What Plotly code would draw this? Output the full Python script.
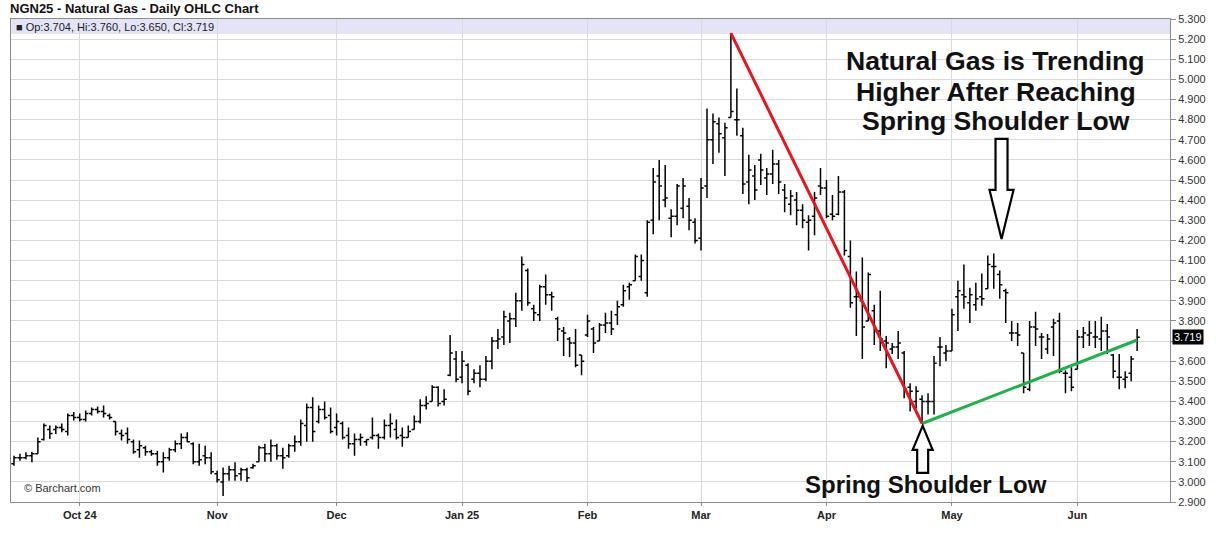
import plotly.graph_objects as go

# ---------------- data (trading-day index 0..188, Sep 16 2024 .. Jun 16 2025) -------------
opens = [3.09, 3.12, 3.12, 3.13, 3.14, 3.21, 3.26, 3.26, 3.27, 3.25,
         3.33, 3.32, 3.31, 3.34, 3.36, 3.35, 3.33, 3.30, 3.24, 3.24,
         3.20, 3.16, 3.17, 3.15, 3.14, 3.10, 3.12, 3.16, 3.19, 3.22,
         3.19, 3.10, 3.13, 3.12, 3.04, 3.00, 3.04, 3.06, 3.04, 3.06,
         3.07, 3.10, 3.17, 3.14, 3.18, 3.13, 3.13, 3.18, 3.20, 3.28,
         3.37, 3.30, 3.36, 3.33, 3.27, 3.29, 3.23, 3.19, 3.21, 3.20,
         3.22, 3.23, 3.22, 3.28, 3.26, 3.23, 3.22, 3.26, 3.30, 3.38,
         3.40, 3.47, 3.40, 3.53, 3.61, 3.52, 3.58, 3.51, 3.54, 3.51,
         3.60, 3.70, 3.72, 3.80, 3.81, 3.90, 4.05, 3.86, 3.83, 3.97,
         3.93, 3.81, 3.75, 3.71, 3.69, 3.63, 3.73, 3.76, 3.70, 3.78,
         3.79, 3.83, 3.88, 3.97, 4.00, 4.02, 3.94, 4.30, 4.52, 4.40,
         4.31, 4.32, 4.36, 4.37, 4.29, 4.21, 4.47, 4.70, 4.78, 4.71,
         4.81, 4.80, 4.72, 4.49, 4.52, 4.60, 4.51, 4.53, 4.58, 4.45,
         4.38, 4.40, 4.35, 4.29, 4.32, 4.47, 4.46, 4.33, 4.33, 4.44,
         4.12, 3.92, 3.90, 3.80, 3.85, 3.75, 3.70, 3.66, 3.67, 3.64,
         3.47, 3.40, 3.41, 3.40, 3.40, 3.67, 3.64, 3.65, 3.92, 3.93,
         3.89, 3.88, 3.92, 3.96, 4.07, 4.03, 3.95, 3.74, 3.74, 3.64,
         3.46, 3.77, 3.72, 3.66, 3.77, 3.80, 3.54, 3.52, 3.56, 3.72,
         3.73, 3.72, 3.71, 3.75, 3.63, 3.52, 3.51, 3.54, 3.704]

highs = [3.13, 3.14, 3.147, 3.15, 3.22, 3.29, 3.28, 3.28, 3.29, 3.34,
         3.347, 3.34, 3.355, 3.37, 3.375, 3.38, 3.34, 3.30, 3.26, 3.27,
         3.21, 3.205, 3.18, 3.16, 3.155, 3.147, 3.17, 3.205, 3.24, 3.247,
         3.197, 3.19, 3.18, 3.147, 3.055, 3.072, 3.08, 3.097, 3.07, 3.07,
         3.09, 3.18, 3.19, 3.21, 3.19, 3.17, 3.19, 3.23, 3.31, 3.39,
         3.42, 3.38, 3.40, 3.37, 3.34, 3.30, 3.27, 3.24, 3.24, 3.21,
         3.32, 3.24, 3.31, 3.34, 3.31, 3.27, 3.28, 3.33, 3.41, 3.425,
         3.48, 3.475, 3.46, 3.73, 3.65, 3.65, 3.59, 3.56, 3.58, 3.625,
         3.72, 3.76, 3.85, 3.84, 3.94, 4.12, 4.06, 3.88, 3.98, 4.03,
         3.945, 3.82, 3.77, 3.72, 3.76, 3.63, 3.83, 3.77, 3.79, 3.84,
         3.85, 3.90, 3.98, 3.99, 4.13, 4.13, 4.30, 4.56, 4.60, 4.575,
         4.355, 4.48, 4.51, 4.41, 4.31, 4.51, 4.855, 4.83, 4.81, 4.785,
         5.23, 4.955, 4.76, 4.625, 4.575, 4.63, 4.56, 4.65, 4.60, 4.48,
         4.45, 4.44, 4.38, 4.325, 4.44, 4.56, 4.50, 4.425, 4.52, 4.45,
         4.20, 4.045, 4.115, 4.04, 3.88, 3.95, 3.725, 3.69, 3.75, 3.65,
         3.49, 3.475, 3.43, 3.44, 3.625, 3.72, 3.68, 3.86, 4.00, 4.08,
         3.965, 3.99, 4.035, 4.125, 4.135, 4.05, 3.96, 3.80, 3.79, 3.64,
         3.80, 3.845, 3.74, 3.735, 3.81, 3.84, 3.555, 3.57, 3.755, 3.77,
         3.80, 3.80, 3.82, 3.785, 3.635, 3.635, 3.55, 3.625, 3.760]

lows = [3.08, 3.105, 3.113, 3.097, 3.14, 3.205, 3.213, 3.238, 3.247, 3.23,
        3.305, 3.30, 3.30, 3.33, 3.34, 3.32, 3.31, 3.23, 3.205, 3.19,
        3.14, 3.12, 3.13, 3.13, 3.08, 3.047, 3.105, 3.147, 3.163, 3.197,
        3.088, 3.08, 3.088, 3.038, 2.997, 2.93, 3.005, 3.005, 3.005, 3.00,
        3.065, 3.10, 3.10, 3.10, 3.11, 3.065, 3.12, 3.15, 3.18, 3.20,
        3.20, 3.29, 3.31, 3.24, 3.23, 3.21, 3.165, 3.13, 3.18, 3.18,
        3.21, 3.165, 3.21, 3.22, 3.21, 3.175, 3.22, 3.26, 3.29, 3.36,
        3.40, 3.375, 3.38, 3.525, 3.495, 3.49, 3.43, 3.49, 3.47, 3.50,
        3.56, 3.66, 3.68, 3.69, 3.77, 3.85, 3.875, 3.80, 3.80, 3.88,
        3.85, 3.70, 3.625, 3.62, 3.57, 3.53, 3.72, 3.64, 3.70, 3.74,
        3.73, 3.78, 3.87, 3.905, 4.00, 4.00, 3.92, 4.23, 4.30, 4.365,
        4.215, 4.275, 4.31, 4.25, 4.185, 4.15, 4.41, 4.58, 4.635, 4.52,
        4.81, 4.72, 4.43, 4.38, 4.40, 4.475, 4.425, 4.48, 4.43, 4.34,
        4.325, 4.275, 4.26, 4.15, 4.225, 4.425, 4.31, 4.30, 4.325, 4.125,
        3.865, 3.725, 3.61, 3.80, 3.68, 3.65, 3.565, 3.635, 3.61, 3.415,
        3.35, 3.365, 3.29, 3.335, 3.335, 3.575, 3.60, 3.65, 3.75, 3.86,
        3.79, 3.85, 3.875, 3.96, 3.96, 3.91, 3.79, 3.70, 3.675, 3.44,
        3.45, 3.675, 3.61, 3.635, 3.625, 3.54, 3.44, 3.45, 3.56, 3.665,
        3.675, 3.665, 3.65, 3.635, 3.515, 3.46, 3.465, 3.50, 3.650]

closes = [3.12, 3.12, 3.13, 3.14, 3.20, 3.28, 3.24, 3.27, 3.26, 3.33,
          3.32, 3.31, 3.34, 3.36, 3.35, 3.34, 3.32, 3.25, 3.23, 3.21,
          3.15, 3.18, 3.15, 3.14, 3.10, 3.12, 3.16, 3.19, 3.22, 3.20,
          3.10, 3.11, 3.12, 3.05, 3.01, 3.04, 3.06, 3.03, 3.06, 3.02,
          3.08, 3.17, 3.14, 3.18, 3.13, 3.12, 3.18, 3.20, 3.29, 3.37,
          3.25, 3.36, 3.32, 3.25, 3.30, 3.22, 3.19, 3.21, 3.22, 3.21,
          3.23, 3.22, 3.28, 3.29, 3.22, 3.22, 3.25, 3.30, 3.38, 3.39,
          3.47, 3.39, 3.41, 3.64, 3.51, 3.60, 3.45, 3.54, 3.51, 3.60,
          3.70, 3.71, 3.82, 3.81, 3.90, 4.08, 3.89, 3.84, 3.97, 3.93,
          3.92, 3.76, 3.74, 3.69, 3.58, 3.60, 3.80, 3.69, 3.78, 3.79,
          3.76, 3.87, 3.95, 3.98, 4.12, 4.10, 4.29, 4.49, 4.47, 4.41,
          4.32, 4.47, 4.47, 4.30, 4.20, 4.46, 4.70, 4.79, 4.73, 4.76,
          4.84, 4.80, 4.48, 4.55, 4.45, 4.55, 4.53, 4.58, 4.49, 4.41,
          4.42, 4.35, 4.30, 4.30, 4.41, 4.46, 4.32, 4.32, 4.44, 4.15,
          3.89, 3.92, 3.77, 4.03, 3.75, 3.71, 3.69, 3.67, 3.69, 3.46,
          3.45, 3.45, 3.40, 3.40, 3.59, 3.67, 3.65, 3.83, 3.95, 3.92,
          3.93, 3.91, 3.91, 4.08, 4.07, 3.98, 3.94, 3.74, 3.73, 3.47,
          3.77, 3.76, 3.72, 3.71, 3.79, 3.55, 3.54, 3.47, 3.72, 3.74,
          3.74, 3.72, 3.75, 3.72, 3.55, 3.52, 3.52, 3.61, 3.719]

month_tick_index = [11, 34, 54, 75, 96, 115, 136, 157, 178]
month_tick_label = ["Oct 24", "Nov", "Dec", "Jan 25", "Feb", "Mar", "Apr", "May", "Jun"]
price_ticks = [round(2.9 + 0.1 * k, 1) for k in range(25)]

# trend lines: (index, price) endpoints
peak_idx, low_idx, last_idx = 120, 152, 188
green_end_price = 3.705

# ---------------------------------------------------------------------------------------------
x = list(range(len(closes)))
FONT = "Liberation Sans, Arial, Helvetica, sans-serif"

fig = go.Figure()
fig.add_trace(go.Ohlc(
    x=x, open=opens, high=highs, low=lows, close=closes,
    increasing=dict(line=dict(color="#000000", width=1.5)),
    decreasing=dict(line=dict(color="#000000", width=1.5)),
    tickwidth=0.45, showlegend=False, hoverinfo="skip"))

shapes = []
# lavender info band at top of plot
shapes.append(dict(type="rect", xref="paper", yref="paper", x0=0, x1=1,
                   y0=1 - 15 / 483, y1=1, fillcolor="#e4e4f8", line=dict(width=0),
                   layer="below"))
# red downtrend line
shapes.append(dict(type="line", xref="x", yref="y", x0=peak_idx, y0=highs[peak_idx],
                   x1=low_idx, y1=lows[low_idx], line=dict(color="#e8141e", width=3)))
# green uptrend line
shapes.append(dict(type="line", xref="x", yref="y", x0=low_idx, y0=lows[low_idx],
                   x1=last_idx, y1=green_end_price, line=dict(color="#22b04a", width=3)))

# block arrows (pixel paths around an anchor)
def arrow_path(pts):
    return "M " + " L ".join(f"{a},{b}" for a, b in pts) + " Z"

may_hi = max(range(157, 178), key=lambda i: highs[i])
down_pts = [(0, 0), (-12, 49), (-6, 49), (-6, 100), (6, 100), (6, 49), (12, 49)]
shapes.append(dict(type="path", xref="x", yref="y", xsizemode="pixel", ysizemode="pixel",
                   xanchor=may_hi + 1.3, yanchor=highs[may_hi] + 0.072,
                   path=arrow_path(down_pts), fillcolor="white",
                   line=dict(color="#000000", width=2.2)))
up_pts = [(0, 0), (-10, -24), (-5.5, -24), (-5.5, -47), (5.5, -47), (5.5, -24), (10, -24)]
shapes.append(dict(type="path", xref="x", yref="y", xsizemode="pixel", ysizemode="pixel",
                   xanchor=low_idx + 0.1, yanchor=lows[low_idx] - 0.012,
                   path=arrow_path(up_pts), fillcolor="white",
                   line=dict(color="#000000", width=2.2)))

annotations = []
# title
annotations.append(dict(xref="paper", yref="paper", x=0, y=1, xanchor="left", yanchor="middle",
                        xshift=-3, yshift=11, showarrow=False,
                        text="<b>NGN25 - Natural Gas - Daily OHLC Chart</b>",
                        font=dict(family=FONT, size=13, color="#111111")))
# info band text
annotations.append(dict(xref="paper", yref="paper", x=0, y=1, xanchor="left", yanchor="middle",
                        xshift=3, yshift=-8, showarrow=False,
                        text="■ Op:3.704, Hi:3.760, Lo:3.650, Cl:3.719",
                        font=dict(family=FONT, size=11, color="#222222")))
# copyright
annotations.append(dict(xref="paper", yref="paper", x=0, y=0, xanchor="left", yanchor="middle",
                        xshift=11, yshift=14, showarrow=False, text="© Barchart.com",
                        font=dict(family=FONT, size=11, color="#333333")))
# last price marker (covers the 3.700 tick label, as in the reference)
annotations.append(dict(xref="paper", yref="y", x=1, y=closes[-1], xanchor="left",
                        yanchor="middle", xshift=2, showarrow=False,
                        text=f"{closes[-1]:.3f}", bgcolor="#000000", borderpad=1,
                        font=dict(family=FONT, size=11, color="#ffffff")))
# big commentary text
big_lines = ["Natural Gas is Trending", "Higher After Reaching", "Spring Shoulder Low"]
big_y = [5.092, 4.936, 4.792]
for t, yy in zip(big_lines, big_y):
    annotations.append(dict(xref="x", yref="y", x=164.3, y=yy, xanchor="center",
                            yanchor="middle", showarrow=False, text=f"<b>{t}</b>",
                            font=dict(family=FONT, size=26.6, color="#111111")))
annotations.append(dict(xref="x", yref="y", x=152.6, y=2.989, xanchor="center",
                        yanchor="middle", showarrow=False, text="<b>Spring Shoulder Low</b>",
                        font=dict(family=FONT, size=24, color="#111111")))

tick_text = ["" if abs(v - 3.7) < 1e-9 else f"{v:.3f}" for v in price_ticks]

fig.update_layout(
    width=1216, height=542,
    margin=dict(l=10, r=42, t=19, b=40),
    paper_bgcolor="white", plot_bgcolor="white",
    shapes=shapes, annotations=annotations,
    showlegend=False,
    font=dict(family=FONT, size=11, color="#333333"),
)
fig.update_xaxes(
    range=[-0.5, 193.5], rangeslider=dict(visible=False),
    tickmode="array", tickvals=month_tick_index, ticktext=month_tick_label,
    tickfont=dict(family=FONT, size=11, color="#222222", weight="bold"),
    showgrid=True, gridcolor="#dadada", gridwidth=1,
    showline=True, linecolor="#8c8c8c", linewidth=1, mirror=True,
    ticks="outside", ticklen=3, tickcolor="#8c8c8c", zeroline=False,
)
fig.update_yaxes(
    range=[2.9, 5.3], side="right",
    tickmode="array", tickvals=price_ticks, ticktext=tick_text,
    tickfont=dict(family=FONT, size=11, color="#333333"),
    showgrid=True, gridcolor="#dadada", gridwidth=1,
    showline=True, linecolor="#8c8c8c", linewidth=1, mirror=True,
    ticks="outside", ticklen=5, tickcolor="#8c8c8c", zeroline=False,
)

fig.write_html("out.html", config={"displayModeBar": False},
               post_script="document.body.style.margin='0';")
